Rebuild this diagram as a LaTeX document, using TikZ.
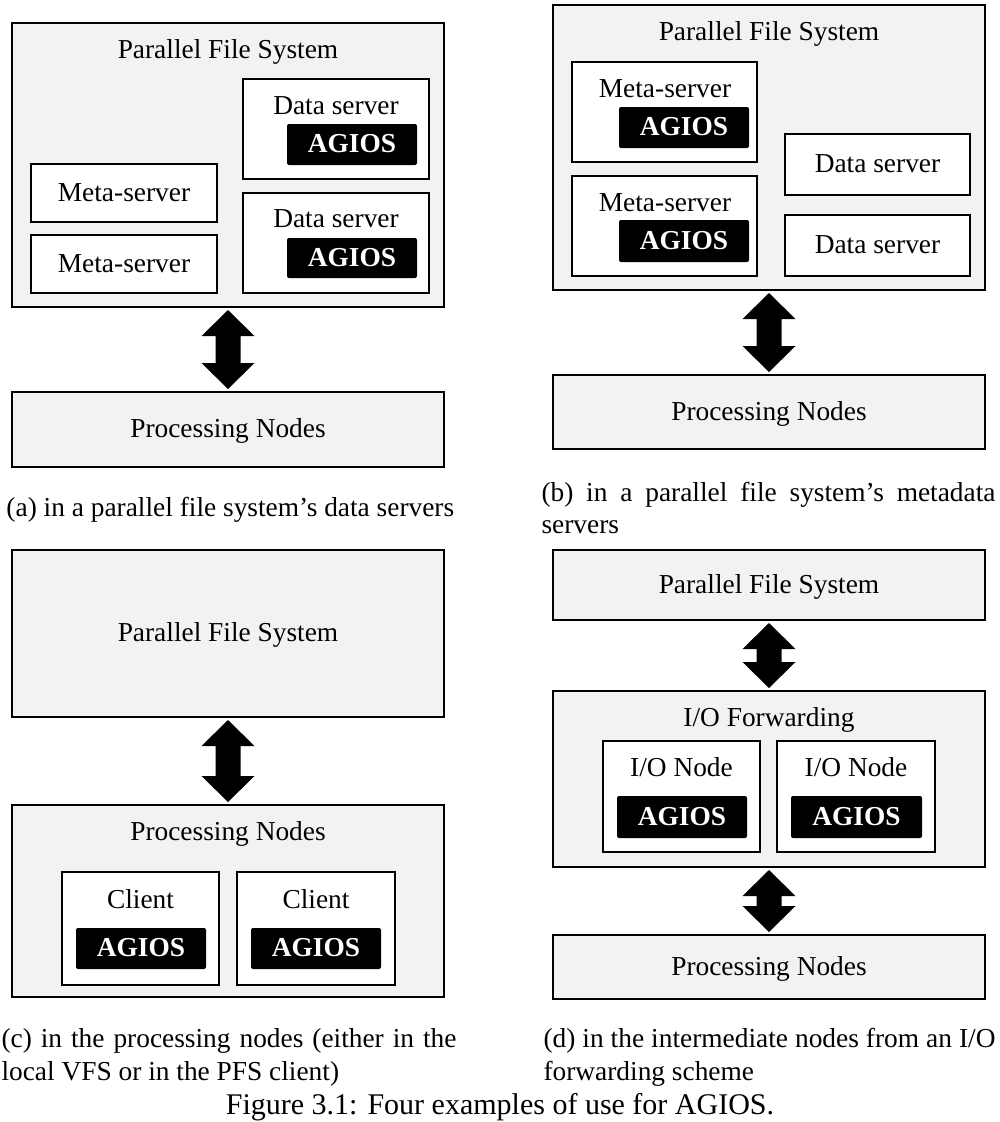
\documentclass[tikz,border=0pt]{standalone}
\usepackage{fontspec}
\setmainfont{Liberation Serif}
\usetikzlibrary{calc}
\definecolor{boxgray}{RGB}{242,242,242}
\newcommand\basefont{\fontsize{10.95}{13.2}\selectfont}
\tikzset{
  outerbox/.style={draw=black, fill=boxgray, line width=0.6pt},
  innerbox/.style={draw=black, fill=white, line width=0.6pt},
  agiosbox/.style={fill=black, text=white, font=\basefont\bfseries, rounded corners=0.8pt},
  txt/.style={inner sep=0pt, text height=0.655em, text depth=0pt},
  captxt/.style={inner sep=0pt, anchor=base west},
}
\newcommand\rbox[7]{\node[#2, inner sep=0pt, outer sep=0pt, text height=0.655em, text depth=0pt,
  anchor=north west, minimum width={(#5-#3)*0.4pt}, minimum height={(#6-#4)*0.4pt}] (#1) at (#3,#4) {#7};}
\newcommand\bigarrow[2]{\fill let \p1=(#1.south), \p2=(#2.north) in
  (\x1,\y1-1.2pt) -- (\x1+10.6pt,\y1-11.6pt) -- (\x1+5pt,\y1-11.6pt) -- (\x1+5pt,\y2+11.6pt)
  -- (\x1+10.6pt,\y2+11.6pt) -- (\x1,\y2+1.2pt) -- (\x1-10.6pt,\y2+11.6pt) -- (\x1-5pt,\y2+11.6pt)
  -- (\x1-5pt,\y1-11.6pt) -- (\x1-10.6pt,\y1-11.6pt) -- cycle;}
\begin{document}
\begin{tikzpicture}[x=0.4pt,y=-0.4pt,font=\basefont]
\useasboundingbox (0,0) rectangle (1000,1122);
% ---------- (a)
\rbox{pfsA}{outerbox}{12}{23}{444}{307}{}
\node[txt] (pfsAt) at (228,50) {Parallel File System};
\rbox{dsA1}{innerbox}{243}{79}{429}{179}{}
\node[txt] (dsA1t) at (336,106) {Data server};
\rbox{agA1}{agiosbox}{287}{124}{417}{165}{AGIOS}
\rbox{dsA2}{innerbox}{243}{193}{429}{293}{}
\node[txt] (dsA2t) at (336,219) {Data server};
\rbox{agA2}{agiosbox}{287}{238}{417}{278}{AGIOS}
\rbox{msA1}{innerbox}{31}{164}{217}{222}{Meta-server}
\rbox{msA2}{innerbox}{31}{235}{217}{293}{Meta-server}
\rbox{pnA}{outerbox}{12}{392}{444}{467}{Processing Nodes}
\bigarrow{pfsA}{pnA}
\node[captxt] (capA) at (6,516) {(a) in a parallel file system’s data servers};
% ---------- (b)
\rbox{pfsB}{outerbox}{553}{5}{985}{290}{}
\node[txt] (pfsBt) at (769,32) {Parallel File System};
\rbox{msB1}{innerbox}{572}{62}{757}{162}{}
\node[txt] (msB1t) at (665,89) {Meta-server};
\rbox{agB1}{agiosbox}{619}{107}{749}{148}{AGIOS}
\rbox{msB2}{innerbox}{572}{176}{757}{276}{}
\node[txt] (msB2t) at (665,203) {Meta-server};
\rbox{agB2}{agiosbox}{619}{220}{749}{262}{AGIOS}
\rbox{dsB1}{innerbox}{785}{134}{970}{195}{Data server}
\rbox{dsB2}{innerbox}{785}{215}{970}{276}{Data server}
\rbox{pnB}{outerbox}{553}{375}{985}{449}{Processing Nodes}
\bigarrow{pfsB}{pnB}
\node[captxt] (capB1) at (541,501) {\makebox[181.6pt][s]{(b) in a parallel file system’s metadata}};
\node[captxt] (capB2) at (541,533) {servers};
% ---------- (c)
\rbox{pfsC}{outerbox}{12}{550}{444}{717}{Parallel File System}
\rbox{pnC}{outerbox}{12}{805}{444}{997}{}
\node[txt] (pnCt) at (228,832) {Processing Nodes};
\rbox{clC1}{innerbox}{62}{872}{219}{985}{}
\node[txt] (clC1t) at (140.5,900) {Client};
\rbox{agC1}{agiosbox}{76}{928}{206}{969}{AGIOS}
\rbox{clC2}{innerbox}{237}{872}{395}{985}{}
\node[txt] (clC2t) at (316,900) {Client};
\rbox{agC2}{agiosbox}{251}{928}{381}{969}{AGIOS}
\bigarrow{pfsC}{pnC}
\node[captxt] (capC1) at (1,1047) {\makebox[182pt][s]{(c) in the processing nodes (either in the}};
\node[captxt] (capC2) at (1,1080) {local VFS or in the PFS client)};
% ---------- (d)
\rbox{pfsD}{outerbox}{553}{550}{985}{620}{Parallel File System}
\rbox{iofD}{outerbox}{553}{691}{985}{867}{}
\node[txt] (iofDt) at (769,718) {I/O Forwarding};
\rbox{ioD1}{innerbox}{603}{741}{760}{852}{}
\node[txt] (ioD1t) at (681.5,768) {I/O Node};
\rbox{agD1}{agiosbox}{617}{796}{747}{838}{AGIOS}
\rbox{ioD2}{innerbox}{777}{741}{935}{852}{}
\node[txt] (ioD2t) at (856,768) {I/O Node};
\rbox{agD2}{agiosbox}{791}{796}{922}{838}{AGIOS}
\rbox{pnD}{outerbox}{553}{935}{985}{999}{Processing Nodes}
\bigarrow{pfsD}{iofD}
\bigarrow{iofD}{pnD}
\node[captxt] (capD1) at (543,1047) {\makebox[180.8pt][s]{(d) in the intermediate nodes from an I/O}};
\node[captxt] (capD2) at (543,1080) {forwarding scheme};
% ---------- figure caption
\node[inner sep=0pt, anchor=base, font=\fontsize{12}{14.4}\selectfont] (figcap) at (500,1114) {Figure 3.1: Four examples of use for AGIOS.};
\end{tikzpicture}
\end{document}
